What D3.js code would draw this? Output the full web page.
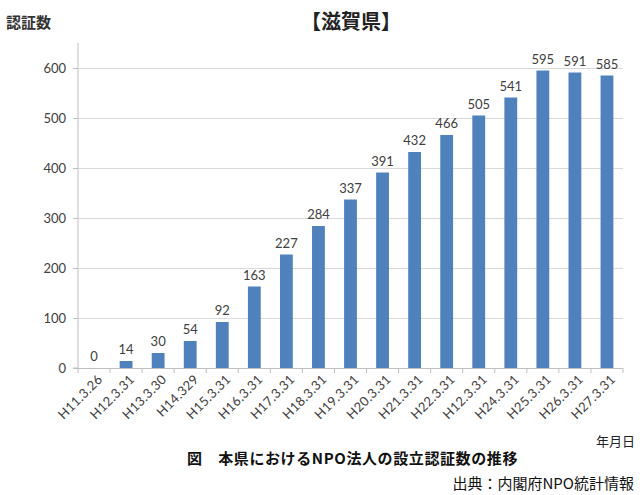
<!DOCTYPE html>
<html><head><meta charset="utf-8">
<script src="https://cdn.jsdelivr.net/npm/d3@7"></script>
<style>
body{margin:0;background:#fff;}
text{font-family:"Noto Sans CJK JP",sans-serif;}
text.num{font-family:Lato,"Liberation Sans",sans-serif;}
</style></head>
<body><svg id="c" width="642" height="495"></svg>
<script>
const categories = ["H11.3.26","H12.3.31","H13.3.30","H14.329","H15.3.31","H16.3.31","H17.3.31","H18.3.31","H19.3.31","H20.3.31","H21.3.31","H22.3.31","H12.3.31","H24.3.31","H25.3.31","H26.3.31","H27.3.31"];
const values = [0,14,30,54,92,163,227,284,337,391,432,466,505,541,595,591,585];
const yTicks = [0,100,200,300,400,500,600];

const svg = d3.select("#c");
const pL = 78, pR = 623, pT = 43, pB = 368;
const idx = categories.map((d,i)=>i);
const x = d3.scaleBand().domain(idx).range([pL,pR]).paddingInner(0.6).paddingOuter(0.3);
const y = d3.scaleLinear().domain([0,650]).range([pB,pT]);

// gridlines
svg.append("g").selectAll("line").data(yTicks.filter(d=>d>0)).join("line")
  .attr("x1",pL).attr("x2",pR).attr("y1",d=>y(d)).attr("y2",d=>y(d))
  .attr("stroke","#d9d9d9").attr("stroke-width",1).attr("shape-rendering","crispEdges");

// y axis
const ya = svg.append("g").attr("transform",`translate(${pL},0)`)
  .call(d3.axisLeft(y).tickValues(yTicks).tickSize(5).tickPadding(7));
ya.select(".domain").attr("stroke","#bfbfbf").attr("d",`M-5,${pB}H0V${pT}`);
ya.selectAll(".tick line").attr("stroke","#bfbfbf");
ya.selectAll("text").attr("class","num").attr("font-size",13).attr("fill","#404040");

// x axis
const xb = d3.scaleLinear().domain([0,categories.length]).range([pL,pR]);
const xa = svg.append("g").attr("transform",`translate(0,${pB})`);
xa.append("line").attr("x1",pL).attr("x2",pR).attr("stroke","#bfbfbf").attr("shape-rendering","crispEdges");
xa.selectAll("line.t").data(d3.range(categories.length+1)).join("line").attr("class","t")
  .attr("x1",d=>xb(d)).attr("x2",d=>xb(d)).attr("y1",0).attr("y2",5).attr("stroke","#bfbfbf");
xa.selectAll("text.num").data(idx).join("text").attr("class","num")
  .attr("transform",d=>`translate(${x(d)+x.bandwidth()/2+6},9) rotate(-45)`)
  .attr("text-anchor","end").attr("dy","0.35em")
  .attr("font-size",13).attr("letter-spacing","0.3px").attr("fill","#404040")
  .text(d=>categories[d]);

// bars
svg.append("g").selectAll("rect").data(idx).join("rect")
  .attr("x",d=>x(d)).attr("width",x.bandwidth())
  .attr("y",d=>y(values[d])).attr("height",d=>pB-y(values[d]))
  .attr("fill","#4f81bd");

// value labels
svg.append("g").selectAll("text").data(idx).join("text").attr("class","num")
  .attr("x",d=>x(d)+x.bandwidth()/2).attr("y",d=>y(values[d])-7)
  .attr("text-anchor","middle").attr("font-size",13).attr("fill","#404040")
  .text(d=>values[d]);

// titles
svg.append("text").attr("x",351).attr("y",29).attr("text-anchor","middle")
  .attr("font-size",20).attr("font-weight","bold").attr("fill","#222").text("【滋賀県】");
svg.append("text").attr("x",6).attr("y",28).attr("font-size",15).attr("font-weight","bold").attr("fill","#333").text("認証数");
svg.append("text").attr("x",635).attr("y",446).attr("text-anchor","end").attr("font-size",13).attr("fill","#222").text("年月日");
svg.append("text").attr("x",187).attr("y",464).attr("font-size",15).attr("letter-spacing","0.6px").attr("font-weight","bold").attr("fill","#111").text("図　本県におけるNPO法人の設立認証数の推移");
svg.append("text").attr("x",634).attr("y",489).attr("text-anchor","end").attr("font-size",15).attr("fill","#111").text("出典：内閣府NPO統計情報");
</script></body></html>
